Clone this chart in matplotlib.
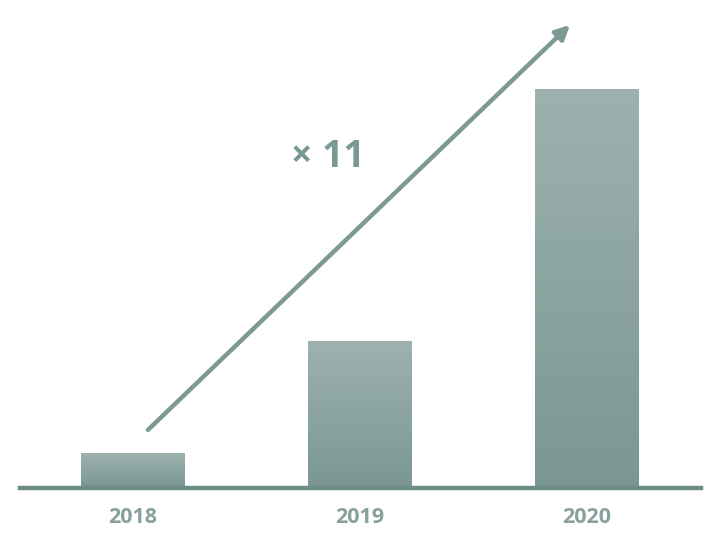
import matplotlib
matplotlib.use('Agg')
import matplotlib.pyplot as plt
import numpy as np
from matplotlib.colors import LinearSegmentedColormap

years = ['2018', '2019', '2020']
values = [1.0, 4.2, 11.4]
growth_label = '× 11'

fig = plt.figure(figsize=(7.11, 5.45), dpi=100)
fig.set_facecolor('white')
ax = fig.add_axes([19.5 / 711, 57 / 545, 681 / 711, 468 / 545])

x = np.arange(len(years))
bars = ax.bar(x, values, width=0.458, color='none', edgecolor='none', zorder=2)

# vertical gradient inside each bar
cmap = LinearSegmentedColormap.from_list('barfade', ['#7a9793', '#9db2af'])
grad = np.linspace(0, 1, 256).reshape(-1, 1)
for b in bars:
    x0, w, h = b.get_x(), b.get_width(), b.get_height()
    im = ax.imshow(grad, cmap=cmap, aspect='auto', origin='lower',
                   extent=[x0, x0 + w, 0, h], zorder=2)
    im.set_clip_path(b)

ax.set_xlim(-0.5, 2.5)
ax.set_ylim(0, 468 / 35)

for s in ['top', 'right', 'left']:
    ax.spines[s].set_visible(False)
ax.spines['bottom'].set_color('#6e8c88')
ax.spines['bottom'].set_linewidth(3.2)
ax.spines['bottom'].set_zorder(3)
ax.set_yticks([])
ax.set_xticks(x)
ax.set_xticklabels(years, fontsize=15.5, fontweight='bold', color='#87a19e', family='Open Sans')
ax.tick_params(axis='x', length=0, pad=14)

# growth arrow
ax.annotate('', xy=(1.925, 13.23), xytext=(0.066, 1.66),
            arrowprops=dict(arrowstyle='-|>', color='#7d9996', lw=3.2,
                            mutation_scale=21, shrinkA=0, shrinkB=0),
            annotation_clip=False, zorder=4)
ax.text(0.86, 9.46, growth_label, fontsize=27, fontweight='bold', color='#7a9895',
        ha='center', va='center', family='Open Sans')

plt.savefig('out.png', format='PNG', facecolor=fig.get_facecolor())
